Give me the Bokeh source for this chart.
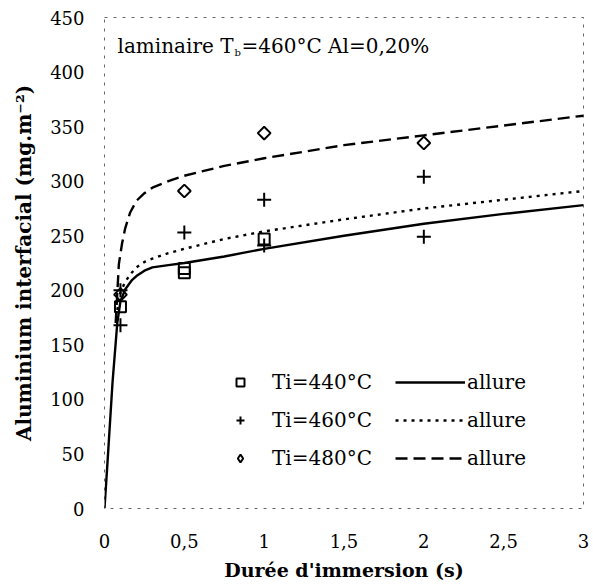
from bokeh.plotting import figure
from bokeh.models import Range1d, FixedTicker, Label, Legend, LegendItem
from bokeh.embed import file_html
from bokeh.resources import INLINE
import math

# measured points
t440 = [0.1, 0.5, 0.5, 1.0]
a440 = [185, 216, 220, 247]
t460 = [0.1, 0.1, 0.5, 1.0, 1.0, 2.0, 2.0]
a460 = [200, 168, 253, 283, 241, 304, 249]
t480 = [0.1, 0.5, 1.0, 2.0]
a480 = [196, 291, 344, 335]

# trend curves ("allure")
c440_t = [0, 0.02, 0.05, 0.08, 0.1, 0.13, 0.17, 0.2, 0.25, 0.3, 0.4, 0.5, 0.75, 1, 1.5, 2, 2.5, 3]
c440_a = [0, 45, 115, 170, 190, 201, 209, 213, 218, 221, 223, 225, 231, 238, 250, 261, 270, 278]
c460_t = [0.08, 0.1, 0.13, 0.17, 0.2, 0.25, 0.3, 0.4, 0.5, 0.75, 1, 1.5, 2, 2.5, 3]
c460_a = [182, 198, 208, 216, 221, 226, 229, 234, 238, 247, 254, 265, 275, 283, 291]
c480_t = [0.07, 0.09, 0.11, 0.13, 0.16, 0.2, 0.25, 0.3, 0.4, 0.5, 0.75, 1, 1.5, 2, 2.5, 3]
c480_a = [170, 224, 243, 257, 271, 282, 289, 294, 300, 305, 314, 321, 333, 342, 351, 360]

x_ticks = [0, 0.5, 1, 1.5, 2, 2.5, 3]
x_tick_labels = ["0", "0,5", "1", "1,5", "2", "2,5", "3"]
y_ticks = [0, 50, 100, 150, 200, 250, 300, 350, 400, 450]

FONT = "DejaVu Serif"

p = figure(width=590, height=583, output_backend="svg", toolbar_location=None,
           x_range=Range1d(0, 3), y_range=Range1d(0, 450),
           min_border_left=104, min_border_right=7, min_border_top=17, min_border_bottom=75)
p.grid.visible = False
p.background_fill_color = "white"
p.border_fill_color = "white"
p.outline_line_color = "black"
p.outline_line_dash = "3 6"
p.outline_line_alpha = 0.6

p.xaxis.ticker = FixedTicker(ticks=x_ticks)
p.xaxis.major_label_overrides = {t: l for t, l in zip(x_ticks, x_tick_labels)}
p.yaxis.ticker = FixedTicker(ticks=y_ticks)
for ax in (p.xaxis, p.yaxis):
    ax.axis_line_color = None
    ax.major_tick_line_color = None
    ax.minor_tick_line_color = None
    ax.major_label_text_font = FONT
    ax.major_label_text_font_size = "18px"
    ax.major_label_text_color = "black"
    ax.axis_label_text_font = "DejaVu Serif"
    ax.axis_label_text_font_style = "bold"
    ax.axis_label_text_color = "black"
p.xaxis.axis_label_text_font_size = "19px"
p.yaxis.axis_label_text_font_size = "20px"
p.yaxis.major_label_standoff = 14
p.xaxis.major_label_standoff = 19
p.xaxis.axis_label = "Durée d'immersion (s)"
p.yaxis.axis_label = "Aluminium interfacial (mg.m⁻²)"
p.xaxis.axis_label_standoff = 8
p.yaxis.axis_label_standoff = 11

l1 = p.line(c440_t, c440_a, line_color="black", line_width=2.4)
l2 = p.line(c460_t, c460_a, line_color="black", line_width=2.4, line_dash="3 5")
l3 = p.line(c480_t, c480_a, line_color="black", line_width=2.4, line_dash="12 6")

m1 = p.scatter(t440, a440, marker="square", size=11, fill_color=None, line_color="black", line_width=2)
m2 = p.scatter(t460, a460, marker="cross", size=14, line_color="black", line_width=2)
m3 = p.scatter(t480, a480, marker="square", angle=math.pi / 4, size=9,
               fill_color=None, line_color="black", line_width=2)
# legend-only key for the diamond series (off-range point, never visible in the plot)
m3_key = p.scatter(x=[float("nan")], y=[float("nan")], marker="diamond", size=17,
                   fill_color=None, line_color="black", line_width=2)

leg1 = Legend(items=[LegendItem(label="Ti=440°C", renderers=[m1]),
                     LegendItem(label="Ti=460°C", renderers=[m2]),
                     LegendItem(label="Ti=480°C", renderers=[m3_key])],
              location=(126, 38))
leg2 = Legend(items=[LegendItem(label="allure", renderers=[l1]),
                     LegendItem(label="allure", renderers=[l2]),
                     LegendItem(label="allure", renderers=[l3])],
              location=(291, 38), glyph_width=70)
for lg, st in ((leg1, 22), (leg2, 2)):
    lg.padding = 0
    lg.margin = 0
    lg.spacing = 14
    lg.glyph_height = 20
    lg.label_height = 20
    lg.label_standoff = st
    lg.border_line_color = None
    lg.background_fill_alpha = 0
    lg.label_text_font = FONT
    lg.label_text_font_size = "20px"
    lg.label_text_color = "black"
    p.add_layout(lg)
leg1.glyph_width = 20

for txt, xs, ys, fs in (("laminaire T", 13, 463, "20px"),
                        ("b", 130, 456, "10px"),
                        ("=460°C Al=0,20%", 137, 463, "20px")):
    p.add_layout(Label(x=xs, y=ys, x_units="screen", y_units="screen",
                       text=txt, text_font=FONT, text_font_size=fs,
                       text_color="black", text_baseline="middle"))

open("out.html", "w").write(file_html(p, INLINE))
